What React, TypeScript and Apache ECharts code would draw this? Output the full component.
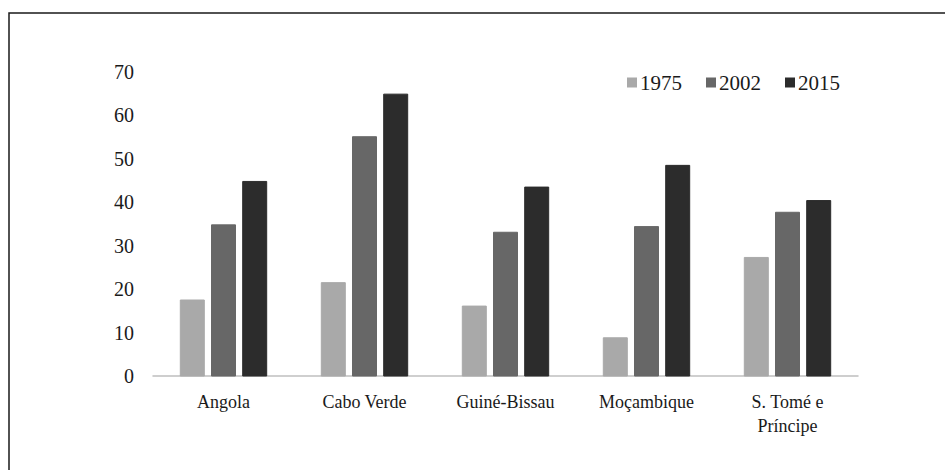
import React, { useEffect, useRef } from "react";
import * as echarts from "echarts";

const categories = ["Angola", "Cabo Verde", "Guiné-Bissau", "Moçambique", "S. Tomé e\nPríncipe"];
const seriesNames = ["1975", "2002", "2015"];
const values1975 = [17.5, 21.5, 16.1, 8.8, 27.3];
const values2002 = [34.8, 55.1, 33.1, 34.4, 37.7];
const values2015 = [44.8, 64.9, 43.5, 48.5, 40.4];
const yTicks = { min: 0, max: 70, interval: 10 };
const colors = ["#a9a9a9", "#676767", "#2c2c2c"];

export default function App() {
  const ref = useRef<HTMLDivElement>(null);
  useEffect(() => {
    if (!ref.current) return;
    const chart = echarts.init(ref.current, undefined, { renderer: "svg" });
    const font = "'Liberation Serif', 'Times New Roman', serif";
    const data = [values1975, values2002, values2015];
    chart.setOption({
      animation: false,
      backgroundColor: "#ffffff",
      textStyle: { fontFamily: font },
      graphic: [
        {
          type: "rect",
          shape: { x: 9, y: 13, width: 1000, height: 500 },
          style: { fill: "none", stroke: "#1a1a1a", lineWidth: 1.5 },
          silent: true,
        },
      ],
      legend: {
        right: 100,
        top: 67,
        itemWidth: 10,
        itemHeight: 10,
        itemGap: 24,
        icon: "rect",
        data: seriesNames,
        textStyle: { fontFamily: font, fontSize: 21, color: "#1a1a1a", padding: [0, 0, 0, -2] },
      },
      grid: { left: 153, right: 87, top: 72, bottom: 94, containLabel: false },
      xAxis: {
        type: "category",
        data: categories,
        axisLine: { show: true, lineStyle: { color: "#bfbfbf", width: 1.5 } },
        axisTick: { show: false },
        axisLabel: {
          fontFamily: font,
          fontSize: 18,
          color: "#1a1a1a",
          margin: 14,
          lineHeight: 24,
          interval: 0,
        },
      },
      yAxis: {
        type: "value",
        min: yTicks.min,
        max: yTicks.max,
        interval: yTicks.interval,
        axisLine: { show: false },
        axisTick: { show: false },
        splitLine: { show: false },
        axisLabel: { fontFamily: font, fontSize: 20, color: "#1a1a1a", margin: 19 },
      },
      series: seriesNames.map((name, i) => ({
        name,
        type: "bar",
        data: data[i],
        barWidth: 24,
        barGap: "30%",
        itemStyle: { color: colors[i], borderColor: colors[i] },
      })),
    });
    return () => chart.dispose();
  }, []);
  return (
    <div
      ref={ref}
      style={{ position: "absolute", left: 0, top: 0, width: 945, height: 470 }}
    />
  );
}
